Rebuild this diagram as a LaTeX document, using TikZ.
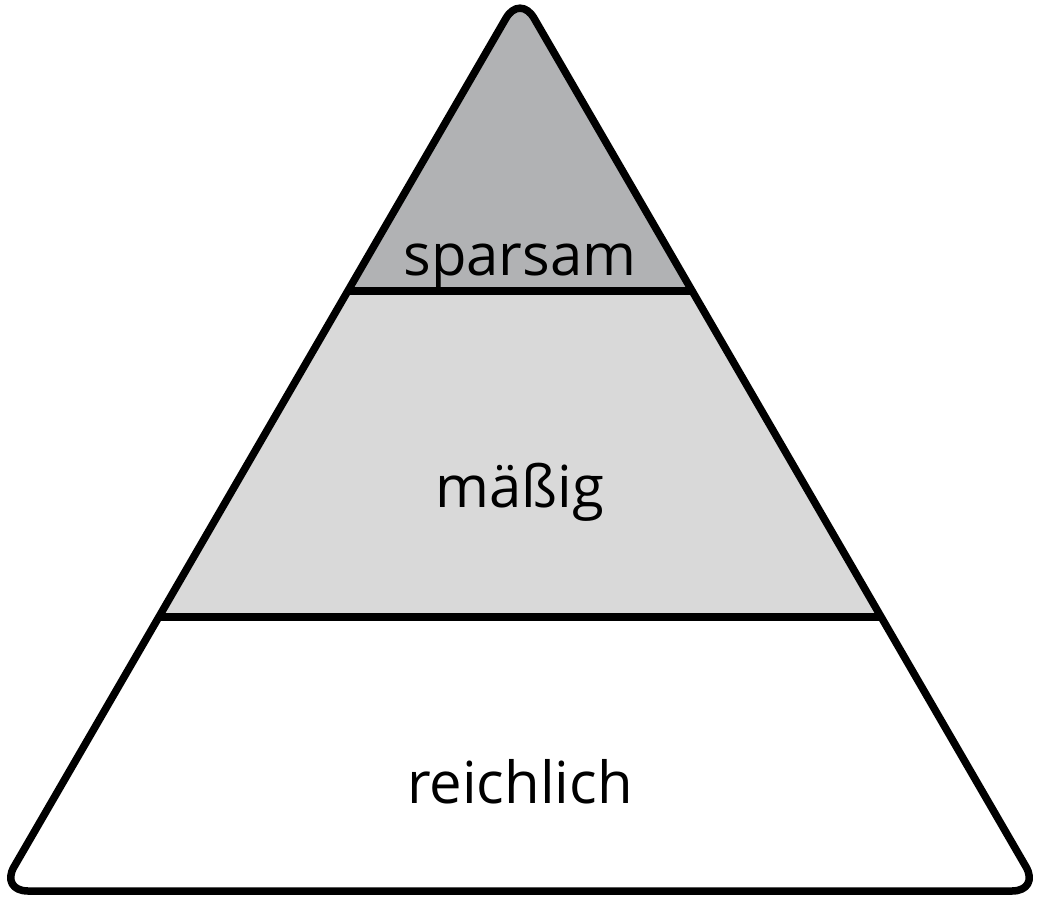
\documentclass[tikz,border=0pt]{standalone}
\usepackage{fontspec}
\setmainfont{Open Sans}
\usepackage{tikz}
\usetikzlibrary{calc}
\usetikzlibrary{positioning}

\definecolor{topgray}{HTML}{B1B2B4}
\definecolor{midgray}{HTML}{D9D9D9}

\begin{document}
\begin{tikzpicture}[x=1pt, y=-1pt]
\useasboundingbox (0, 0) rectangle (1039, 899);
\coordinate (apex) at (520, -6);
\coordinate (BL) at (0, 891);
\coordinate (BR) at (1040, 891);
\coordinate (L1) at (348, 291);
\coordinate (R1) at (692, 291);
\coordinate (L2) at (160, 617);
\coordinate (R2) at (880, 617);
\begin{scope}
\clip [rounded corners=28pt] (apex) -- (BR) -- (BL) -- cycle;
\fill [white] (0, 617) rectangle (1039, 899);
\fill [midgray] (0, 291) rectangle (1039, 617);
\fill [topgray] (0, -8) rectangle (1039, 291);
\draw [line width=7.5pt] ($(L1)+(-20,0)$) -- ($(R1)+(20,0)$);
\draw [line width=7.5pt] ($(L2)+(-20,0)$) -- ($(R2)+(20,0)$);
\end{scope}
\draw [line width=7.5pt, rounded corners=28pt, line join=round] (apex) -- (BR) -- (BL) -- cycle;
\node [anchor=base, font=\fontsize{58}{70}\selectfont, inner sep=0] (S) at (520, 275) {sparsam};
\node [anchor=base, font=\fontsize{58}{70}\selectfont, inner sep=0] (M) at (520, 507) {mäßig};
\node [anchor=base, font=\fontsize{58}{70}\selectfont, inner sep=0] (R) at (520, 803) {reichlich};
\end{tikzpicture}
\end{document}
